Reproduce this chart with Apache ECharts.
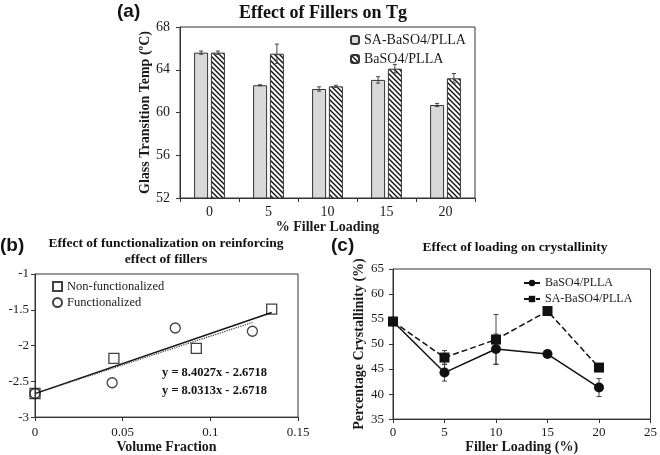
<!DOCTYPE html>
<html>
<head>
<meta charset="utf-8">
<script src="https://cdn.jsdelivr.net/npm/echarts@6/dist/echarts.min.js"></script>
<style>
html,body{margin:0;padding:0;background:#fff;}
#main{width:660px;height:455px;}
</style>
</head>
<body>
<div id="main"></div>
<script>
// ---------- Panel (a) data ----------
const catsA = ['0', '5', '10', '15', '20'];
const tgSA = [65.6, 62.55, 62.2, 63.05, 60.7];
const tgSAErr = [0.15, 0.05, 0.2, 0.3, 0.15];
const tgBa = [65.6, 65.5, 62.45, 64.1, 63.2];
const tgBaErr = [0.15, 0.9, 0.1, 0.4, 0.45];
const ticksA = [52, 56, 60, 64, 68];

// ---------- Panel (b) data ----------
const nonFunc = [[0, -2.67], [0.045, -2.18], [0.092, -2.04], [0.135, -1.49]];
const funcz = [[0, -2.67], [0.044, -2.52], [0.080, -1.755], [0.124, -1.80]];
const fitNon = [[0, -2.6718], [0.135, -1.5375]];
const fitFunc = [[0, -2.6718], [0.124, -1.676]];
const eqTexts = ['y = 8.4027x - 2.6718', 'y = 8.0313x - 2.6718'];

// ---------- Panel (c) data ----------
const loadC = [0, 5, 10, 15, 20];
const crBa = [54.5, 44.3, 49.0, 48.0, 41.3];
const crBaErr = [0.5, 1.7, 3.0, 0.7, 1.8];
const crSA = [54.5, 47.3, 50.9, 56.6, 45.3];
const crSAErr = [0.5, 1.4, 5.0, 0.5, 0.5];

const SERIF = '"Liberation Serif","Times New Roman",serif';
const SANS = '"Liberation Sans",Arial,sans-serif';
const INK = '#1a1a1a';

function hatchPattern() {
  const c = document.createElement('canvas');
  c.width = 5; c.height = 5;
  const g = c.getContext('2d');
  g.fillStyle = '#fff'; g.fillRect(0, 0, 5, 5);
  g.strokeStyle = '#111'; g.lineWidth = 1.4;
  g.beginPath();
  g.moveTo(-1, -1); g.lineTo(6, 6);
  g.moveTo(-1, 4); g.lineTo(1, 6);
  g.moveTo(4, -1); g.lineTo(6, 1);
  g.stroke();
  return c;
}

const barW = 14, gapRatio = 0.2;
const barOffset = (barW + barW * gapRatio) / 2;

function errRender(offset, cap) {
  return function (params, api) {
    const x = api.value(0), y = api.value(1), e = api.value(2);
    const hi = api.coord([x, y + e]);
    const lo = api.coord([x, y - e]);
    const cx = hi[0] + offset;
    const st = { stroke: '#444', lineWidth: 1 };
    return {
      type: 'group',
      children: [
        { type: 'line', shape: { x1: cx, y1: hi[1], x2: cx, y2: lo[1] }, style: st },
        { type: 'line', shape: { x1: cx - cap, y1: hi[1], x2: cx + cap, y2: hi[1] }, style: st },
        { type: 'line', shape: { x1: cx - cap, y1: lo[1], x2: cx + cap, y2: lo[1] }, style: st }
      ]
    };
  };
}

const axisLine = { show: true, lineStyle: { color: '#333', width: 1 } };
const axisTick = { show: true, inside: false, length: 4, lineStyle: { color: '#333' } };
const lbl = (size, margin) => ({ color: INK, fontFamily: SERIF, fontSize: size, margin: margin });
const nameStyle = { color: INK, fontFamily: SERIF, fontSize: 14, fontWeight: 'bold' };

const chart = echarts.init(document.getElementById('main'), null, { renderer: 'canvas' });

const option = {
  animation: false,
  backgroundColor: '#fff',
  grid: [
    { left: 180, right: 185, top: 27, bottom: 257, show: true, borderColor: '#333', borderWidth: 1 },
    { left: 35, right: 362, top: 274, bottom: 35, show: true, borderColor: '#333', borderWidth: 1 },
    { left: 393, right: 6, top: 269, bottom: 33, show: true, borderColor: '#333', borderWidth: 1 }
  ],
  xAxis: [
    { gridIndex: 0, type: 'category', data: catsA, axisLine, axisTick: Object.assign({}, axisTick, { alignWithLabel: false }),
      axisLabel: lbl(14, 7), name: '% Filler Loading', nameLocation: 'middle', nameGap: 18, nameTextStyle: nameStyle, splitLine: { show: false } },
    { gridIndex: 1, type: 'value', min: 0, max: 0.15, interval: 0.05, axisLine, axisTick,
      axisLabel: lbl(13, 9), name: 'Volume Fraction', nameLocation: 'middle', nameGap: 21, nameTextStyle: nameStyle, splitLine: { show: false } },
    { gridIndex: 2, type: 'value', min: 0, max: 25, interval: 5, axisLine, axisTick,
      axisLabel: lbl(13, 7), name: 'Filler Loading (%)', nameLocation: 'middle', nameGap: 19, nameTextStyle: nameStyle, splitLine: { show: false } }
  ],
  yAxis: [
    { gridIndex: 0, type: 'value', min: ticksA[0], max: ticksA[ticksA.length - 1], interval: 4, axisLine, axisTick,
      axisLabel: lbl(14, 10), name: 'Glass Transition Temp (ºC)', nameLocation: 'middle', nameGap: 28, nameTextStyle: nameStyle, splitLine: { show: false } },
    { gridIndex: 1, type: 'value', min: -3, max: -1, interval: 0.5, axisLine, axisTick,
      axisLabel: lbl(13, 6), splitLine: { show: false } },
    { gridIndex: 2, type: 'value', min: 35, max: 65, interval: 5, axisLine, axisTick,
      axisLabel: lbl(13, 9), name: 'Percentage Crystallinity (%)', nameLocation: 'middle', nameGap: 27, nameTextStyle: nameStyle, splitLine: { show: false } }
  ],
  legend: [
    { left: 345, top: 28, orient: 'vertical', itemWidth: 8, itemHeight: 8, itemGap: 5,
      data: ['SA-BaSO4/PLLA', 'BaSO4/PLLA'],
      textStyle: { color: INK, fontFamily: SERIF, fontSize: 14 } },
    { left: 47, top: 275, orient: 'vertical', itemWidth: 9, itemHeight: 9, itemGap: 3,
      data: ['Non-functionalized', 'Functionalized'],
      textStyle: { color: INK, fontFamily: SERIF, fontSize: 12.5 } },
    { left: 518, top: 272, orient: 'vertical', itemWidth: 16, itemHeight: 8, itemGap: 4,
      data: ['BaSO4/PLLA ', 'SA-BaSO4/PLLA '],
      textStyle: { color: INK, fontFamily: SERIF, fontSize: 12 } }
  ],
  series: [
    // ----- (a) -----
    { name: 'SA-BaSO4/PLLA', type: 'bar', xAxisIndex: 0, yAxisIndex: 0, data: tgSA, barWidth: barW, barGap: (gapRatio * 100) + '%',
      itemStyle: { color: '#d9d9d9', borderColor: '#333', borderWidth: 1 } },
    { name: 'BaSO4/PLLA', type: 'bar', xAxisIndex: 0, yAxisIndex: 0, data: tgBa, barWidth: barW,
      itemStyle: { color: { image: hatchPattern(), repeat: 'repeat' }, borderColor: '#333', borderWidth: 1 } },
    { name: 'errA1', type: 'custom', xAxisIndex: 0, yAxisIndex: 0, z: 10,
      renderItem: errRender(-barOffset, 2), data: tgSA.map((v, i) => [i, v, tgSAErr[i]]) },
    { name: 'errA2', type: 'custom', xAxisIndex: 0, yAxisIndex: 0, z: 10,
      renderItem: errRender(barOffset, 2), data: tgBa.map((v, i) => [i, v, tgBaErr[i]]) },

    // ----- (b) -----
    { name: 'fitNon', type: 'line', xAxisIndex: 1, yAxisIndex: 1, data: fitNon, showSymbol: false, symbol: 'none',
      lineStyle: { color: '#111', width: 1.5, type: 'solid' }, z: 2 },
    { name: 'fitFunc', type: 'line', xAxisIndex: 1, yAxisIndex: 1, data: fitFunc, showSymbol: false, symbol: 'none',
      lineStyle: { color: '#333', width: 1.2, type: 'dotted' }, z: 2 },
    { name: 'Non-functionalized', type: 'scatter', xAxisIndex: 1, yAxisIndex: 1, data: nonFunc, symbol: 'rect', symbolSize: 10,
      itemStyle: { color: 'rgba(255,255,255,0)', borderColor: '#111', borderWidth: 1.3 }, z: 5 },
    { name: 'Functionalized', type: 'scatter', xAxisIndex: 1, yAxisIndex: 1, data: funcz, symbol: 'circle', symbolSize: 10,
      itemStyle: { color: 'rgba(255,255,255,0)', borderColor: '#111', borderWidth: 1.3 }, z: 5 },

    // ----- (c) -----
    { name: 'BaSO4/PLLA ', type: 'line', xAxisIndex: 2, yAxisIndex: 2, data: loadC.map((x, i) => [x, crBa[i]]),
      symbol: 'circle', symbolSize: 10, lineStyle: { color: '#111', width: 1.5 }, itemStyle: { color: '#111' }, z: 4 },
    { name: 'SA-BaSO4/PLLA ', type: 'line', xAxisIndex: 2, yAxisIndex: 2, data: loadC.map((x, i) => [x, crSA[i]]),
      symbol: 'rect', symbolSize: 10, lineStyle: { color: '#111', width: 1.5, type: 'dashed' }, itemStyle: { color: '#111' }, z: 4 },
    { name: 'errC1', type: 'custom', xAxisIndex: 2, yAxisIndex: 2, z: 3,
      renderItem: errRender(0, 2.5), data: loadC.map((x, i) => [x, crBa[i], crBaErr[i]]) },
    { name: 'errC2', type: 'custom', xAxisIndex: 2, yAxisIndex: 2, z: 3,
      renderItem: errRender(0, 2.5), data: loadC.map((x, i) => [x, crSA[i], crSAErr[i]]) }
  ],
  graphic: [
    { type: 'text', x: 117, y: 2, style: { text: '(a)', font: 'bold 19px ' + SANS, fill: '#111' } },
    { type: 'text', x: 0, y: 236, style: { text: '(b)', font: 'bold 19px ' + SANS, fill: '#111' } },
    { type: 'text', x: 331, y: 236, style: { text: '(c)', font: 'bold 19px ' + SANS, fill: '#111' } },
    { type: 'text', x: 323, y: 13, style: { text: 'Effect of Fillers on Tg', font: 'bold 18px ' + SERIF, fill: '#111', align: 'center', verticalAlign: 'middle' } },
    { type: 'text', x: 166, y: 244, style: { text: 'Effect of functionalization on reinforcing', font: 'bold 13.5px ' + SERIF, fill: '#111', align: 'center', verticalAlign: 'middle' } },
    { type: 'text', x: 166, y: 260, style: { text: 'effect of fillers', font: 'bold 13.5px ' + SERIF, fill: '#111', align: 'center', verticalAlign: 'middle' } },
    { type: 'text', x: 515, y: 248, style: { text: 'Effect of loading on crystallinity', font: 'bold 13.5px ' + SERIF, fill: '#111', align: 'center', verticalAlign: 'middle' } },
    { type: 'text', x: 162, y: 373, style: { text: eqTexts[0], font: 'bold 12.5px ' + SERIF, fill: '#111', verticalAlign: 'middle' } },
    { type: 'text', x: 162, y: 391, style: { text: eqTexts[1], font: 'bold 12.5px ' + SERIF, fill: '#111', verticalAlign: 'middle' } }
  ]
};
chart.setOption(option);
</script>
</body>
</html>
